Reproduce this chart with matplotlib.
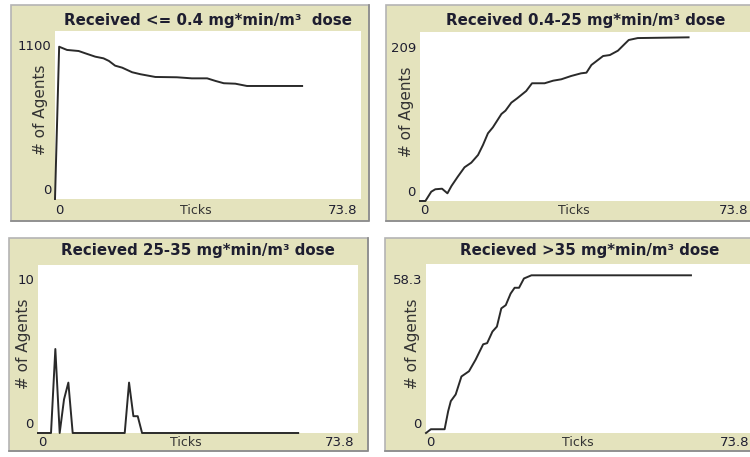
import matplotlib
matplotlib.use("Agg")
import matplotlib.pyplot as plt
from matplotlib.patches import Rectangle
from matplotlib.lines import Line2D

W, H = 750, 457

# values (ticks, # of agents)
low_t = [0, 1.0, 2.9, 5.7, 7.3, 9.7, 11.7, 13.0, 14.5, 16.2, 18.6, 20.6, 24.2,
         29.4, 33.0, 36.7, 38.7, 40.7, 43.5, 46.3, 59.6]
low_n = [0, 997, 976, 969, 954, 932, 921, 904, 873, 860, 830, 817, 799,
         797, 790, 790, 773, 758, 755, 740, 740]

mid_t = [0, 1.2, 2.5, 3.4, 4.9, 6.1, 7.0, 8.4, 9.9, 11.4, 12.9, 14.0, 15.1,
         16.2, 18.1, 19.0, 20.3, 21.6, 23.6, 24.9, 27.7, 29.6, 31.4, 33.6,
         35.8, 37.0, 38.1, 40.7, 42.2, 44.0, 45.5, 46.4, 48.4, 59.7]
mid_n = [0, 0, 11.5, 14.5, 15.2, 9.5, 18.6, 30.1, 41.7, 47.4, 56.9, 69.3, 83.7,
         91.1, 107.6, 111.7, 121.6, 127, 136, 145.6, 145.6, 148.8, 150.5, 154.6,
         157.9, 158.7, 168.2, 179.3, 180.5, 185.9, 194.2, 199.1, 201.5, 202.4]

high_t = [0, 3, 4, 5, 6, 7, 8, 20, 21, 22, 23, 24, 60]
high_n = [0, 0, 5, 0, 2, 3, 0, 0, 3, 1, 1, 0, 0]

top_t = [0, 1.1, 4.2, 5.0, 5.6, 6.7, 8.0, 9.7, 11.2, 12.9, 13.8, 15.0, 16.0,
         17.0, 18.0, 19.1, 20.0, 21.0, 22.1, 23.8, 59.8]
top_n = [0, 1.3, 1.3, 7.5, 11.0, 13.3, 19.5, 21.3, 25.3, 30.6, 31.0, 35.0, 36.7,
         43.0, 44.1, 48.1, 50.1, 50.1, 53.3, 54.4, 54.4]

titles = ["Received <= 0.4 mg*min/m\u00b3  dose",
          "Received 0.4-25 mg*min/m\u00b3 dose",
          "Recieved 25-35 mg*min/m\u00b3 dose",
          "Recieved >35 mg*min/m\u00b3 dose"]
y_max = [1100, 209, 10, 58.3]
y_max_labels = ["1100", "209", "10", "58.3"]
x_max = 73.8
x_max_label = "73.8"

series = [(low_t, low_n), (mid_t, mid_n), (high_t, high_n), (top_t, top_n)]

# pixel boxes: frame (l, t, r, b), plot (l, t, r, b), title y, x-label y
layout = [
    dict(frame=(11, 5, 369, 221), plot=(55, 31, 361, 199), ty=20, xly=211),
    dict(frame=(386, 5, 770, 221), plot=(420, 32, 752, 201), ty=20, xly=211),
    dict(frame=(9, 238, 368, 451), plot=(38, 265, 358, 433), ty=251, xly=443),
    dict(frame=(385, 238, 770, 451), plot=(426, 264, 753, 433), ty=251, xly=443),
]

BEIGE = "#e4e3bd"
TXT = "#1e1e30"
LINE = "#2a2a2a"

fig = plt.figure(figsize=(W / 100, H / 100), dpi=100)
fig.patch.set_facecolor("white")


def fx(x):
    return x / W


def fy(y):
    return 1 - y / H


for i, lay in enumerate(layout):
    l, t, r, b = lay["frame"]
    fig.patches.append(Rectangle((fx(l), fy(b)), fx(r) - fx(l), fy(t) - fy(b),
                                 transform=fig.transFigure, facecolor=BEIGE,
                                 edgecolor="#b4b4b4", linewidth=1.2, zorder=-2))
    # darker shadow on the right and bottom edges
    fig.lines.append(Line2D([fx(l), fx(r), fx(r)], [fy(b), fy(b), fy(t)],
                            transform=fig.transFigure, color="#8a8a8a",
                            linewidth=1.2, zorder=-1))

    pl, pt, pr, pb = lay["plot"]
    ax = fig.add_axes([fx(pl), fy(pb), fx(pr) - fx(pl), fy(pt) - fy(pb)])
    ax.set_zorder(1)
    ax.set_facecolor("white")
    for s in ax.spines.values():
        s.set_visible(False)
    ax.set_xticks([])
    ax.set_yticks([])
    ax.set_xlim(0, x_max)
    ax.set_ylim(0, y_max[i])
    xs, ys = series[i]
    ax.plot(xs, ys, color=LINE, linewidth=1.4, clip_on=False,
            solid_joinstyle="round")

    cx = (pl + pr) / 2
    fig.text(fx(cx), fy(lay["ty"]), titles[i], ha="center", va="center",
             fontsize=10.8, fontweight="bold", color=TXT, zorder=2)
    fig.text(fx(pl - 4), fy(pt + 16), y_max_labels[i], ha="right", va="center",
             fontsize=9.5, color=TXT, zorder=2)
    fig.text(fx(pl - 4), fy(pb - 9), "0", ha="right", va="center",
             fontsize=9.5, color=TXT, zorder=2)
    fig.text(fx(pl), fy(lay["xly"]), "0", ha="left", va="center",
             fontsize=9.5, color=TXT, zorder=2)
    fig.text(fx(pr - 4), fy(lay["xly"]), x_max_label, ha="right", va="center",
             fontsize=9.5, color=TXT, zorder=2)
    fig.text(fx(cx - 12), fy(lay["xly"]), "Ticks", ha="center", va="center",
             fontsize=9, color="#333333", zorder=2)
    fig.text(fx(pl - 14), fy((pt + pb) / 2 - 5), "# of Agents", ha="center",
             va="center", rotation=90, fontsize=11, color="#333333", zorder=2)

fig.savefig("out.png", dpi=100, facecolor="white")
